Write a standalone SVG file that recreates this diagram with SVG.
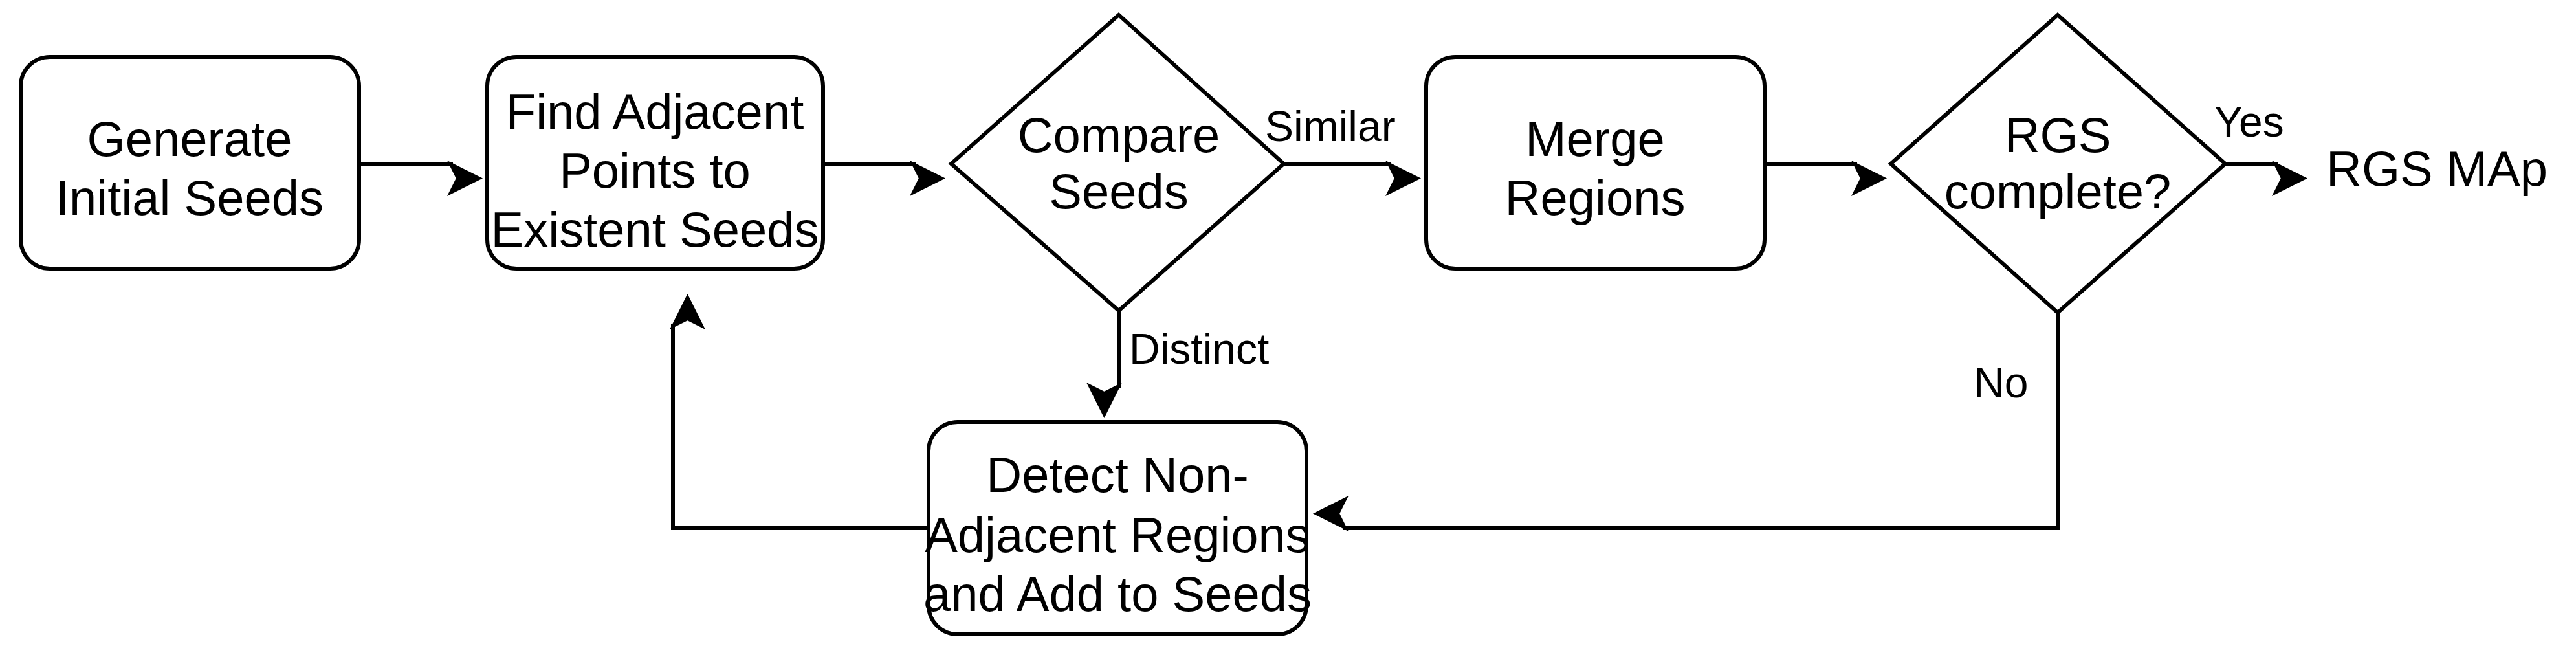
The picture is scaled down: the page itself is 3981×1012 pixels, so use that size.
<svg xmlns="http://www.w3.org/2000/svg" width="3981" height="1012" viewBox="0 0 3981 1012">
<style>
.n{fill:#fff;stroke:#000;stroke-width:6}
.t{font-family:"Liberation Sans",Arial,sans-serif;font-size:76px;fill:#000;text-anchor:middle;dominant-baseline:central}
.l{font-family:"Liberation Sans",Arial,sans-serif;font-size:66px;fill:#000;dominant-baseline:central}
.c{fill:none;stroke:#000;stroke-width:6}
</style>
<defs><marker id="a" markerWidth="10" markerHeight="10" refX="9" refY="5" orient="auto" markerUnits="userSpaceOnUse" viewBox="0 0 10 10" style="overflow:visible"><path d="M0,0 L10,5 L0,10 L2.5,5 Z" transform="scale(5.5)" fill="#000"/></marker></defs>
<rect width="3981" height="1012" fill="#fff"/>
<g id="connectors">
<path class="c" d="M555,253 H700" marker-end="url(#a)"/>
<path class="c" d="M1272,253 H1415" marker-end="url(#a)"/>
<path class="c" d="M1984,253 H2150" marker-end="url(#a)"/>
<path class="c" d="M2727,253 H2870" marker-end="url(#a)"/>
<path class="c" d="M3439,253 H3520" marker-end="url(#a)"/>
<path class="c" d="M1729,480 V600" marker-end="url(#a)"/>
<path class="c" d="M3180,483 V816 H2075" marker-end="url(#a)"/>
<path class="c" d="M1435,816 H1040 V500" marker-end="url(#a)"/>
<text class="l" x="1955" y="195">Similar</text>
<text class="l" x="3422" y="188">Yes</text>
<text class="l" x="1745" y="539">Distinct</text>
<text class="l" x="3050" y="591">No</text>
</g>
<g id="gen"><rect class="n" x="32" y="88" width="523" height="327" rx="45"/><text class="t" x="293" y="214">Generate</text><text class="t" x="293" y="305">Initial Seeds</text></g>
<g id="find"><rect class="n" x="753" y="88" width="519" height="327" rx="45"/><text class="t" x="1012" y="172">Find Adjacent</text><text class="t" x="1012" y="263">Points to</text><text class="t" x="1012" y="354">Existent Seeds</text></g>
<g id="compare"><path class="n" d="M1729,23 L1984,253 L1729,480 L1470,253 Z"/><text class="t" x="1729" y="208">Compare</text><text class="t" x="1729" y="295">Seeds</text></g>
<g id="merge"><rect class="n" x="2204" y="88" width="523" height="327" rx="45"/><text class="t" x="2465" y="214">Merge</text><text class="t" x="2465" y="305">Regions</text></g>
<g id="rgs"><path class="n" d="M3180,23 L3439,253 L3180,483 L2922,253 Z"/><text class="t" x="3180" y="208">RGS</text><text class="t" x="3180" y="295">complete?</text></g>
<g id="detect"><rect class="n" x="1435" y="652" width="584" height="328" rx="45"/><text class="t" x="1727" y="733">Detect Non-</text><text class="t" x="1727" y="826">Adjacent Regions</text><text class="t" x="1727" y="917">and Add to Seeds</text></g>
<g id="out"><text class="t" x="3595" y="260" style="text-anchor:start">RGS MAp</text></g>
</svg>
